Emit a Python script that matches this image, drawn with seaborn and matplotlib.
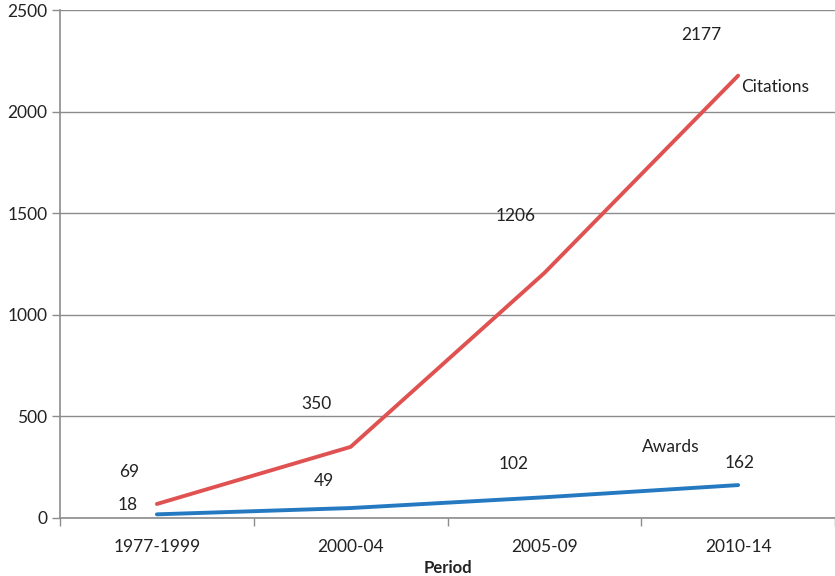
import matplotlib
matplotlib.use("Agg")
import matplotlib.pyplot as plt
from matplotlib.ticker import FixedLocator, MultipleLocator
import pandas as pd
import seaborn as sns

periods = ["1977-1999", "2000-04", "2005-09", "2010-14"]
citations = [69, 350, 1206, 2177]
awards = [18, 49, 102, 162]

df = pd.DataFrame({
    "Period": periods * 2,
    "Count": citations + awards,
    "Series": ["Citations"] * len(periods) + ["Awards"] * len(periods),
})

sns.set_theme(style="white")
plt.rcParams["font.family"] = ["Lato", "DejaVu Sans"]

red = "#E05252"
blue = "#2479C1"
grey = "#8C8C8C"
text_col = "#222222"
fs = 12.5

fig = plt.figure(figsize=(8.35, 5.76), dpi=100)
ax = fig.add_axes([0.0719, 0.1007, 0.9281, 0.8819])

sns.lineplot(data=df, x="Period", y="Count", hue="Series",
             palette={"Citations": red, "Awards": blue},
             linewidth=2.8, legend=False, ax=ax, sort=False)

ax.set_xlim(-0.5, len(periods) - 0.5)
ax.set_ylim(0, 2500)
ax.yaxis.set_major_locator(MultipleLocator(500))
ax.grid(axis="y", color=grey, linewidth=1.0)
ax.grid(axis="x", visible=False)
ax.set_axisbelow(True)

for side in ["top", "right"]:
    ax.spines[side].set_visible(False)
for side in ["left", "bottom"]:
    ax.spines[side].set_color(grey)
    ax.spines[side].set_linewidth(1.2)

ax.tick_params(axis="y", which="major", left=True, length=6, width=1.0,
               color=grey, labelsize=fs, labelcolor=text_col, pad=3)
ax.tick_params(axis="x", which="major", bottom=False, labelsize=fs,
               labelcolor=text_col, pad=9)
ax.xaxis.set_minor_locator(FixedLocator([i - 0.5 for i in range(len(periods) + 1)]))
ax.tick_params(axis="x", which="minor", bottom=True, length=6, width=1.0, color=grey)

ax.set_ylabel("")
ax.set_xlabel("Period", fontsize=12, fontweight="bold", color=text_col, labelpad=4)

# value labels, placed in data coordinates
cit_pos = [(-0.144, 226), (0.821, 561), (1.854, 1486), (2.808, 2377)]
awd_pos = [(-0.149, 64), (0.863, 182), (1.843, 266), (3.01, 271)]
for (x, y), v in zip(cit_pos, citations):
    ax.text(x, y, f"{v}", ha="center", va="center", fontsize=fs, color=text_col)
for (x, y), v in zip(awd_pos, awards):
    ax.text(x, y, f"{v}", ha="center", va="center", fontsize=fs, color=text_col)

# series names, kept clear of the lines
ax.text(3.19, 2121, "Citations", ha="center", va="center", fontsize=fs, color=text_col)
ax.text(2.654, 349, "Awards", ha="center", va="center", fontsize=fs, color=text_col)

fig.savefig("out.png", dpi=100)
